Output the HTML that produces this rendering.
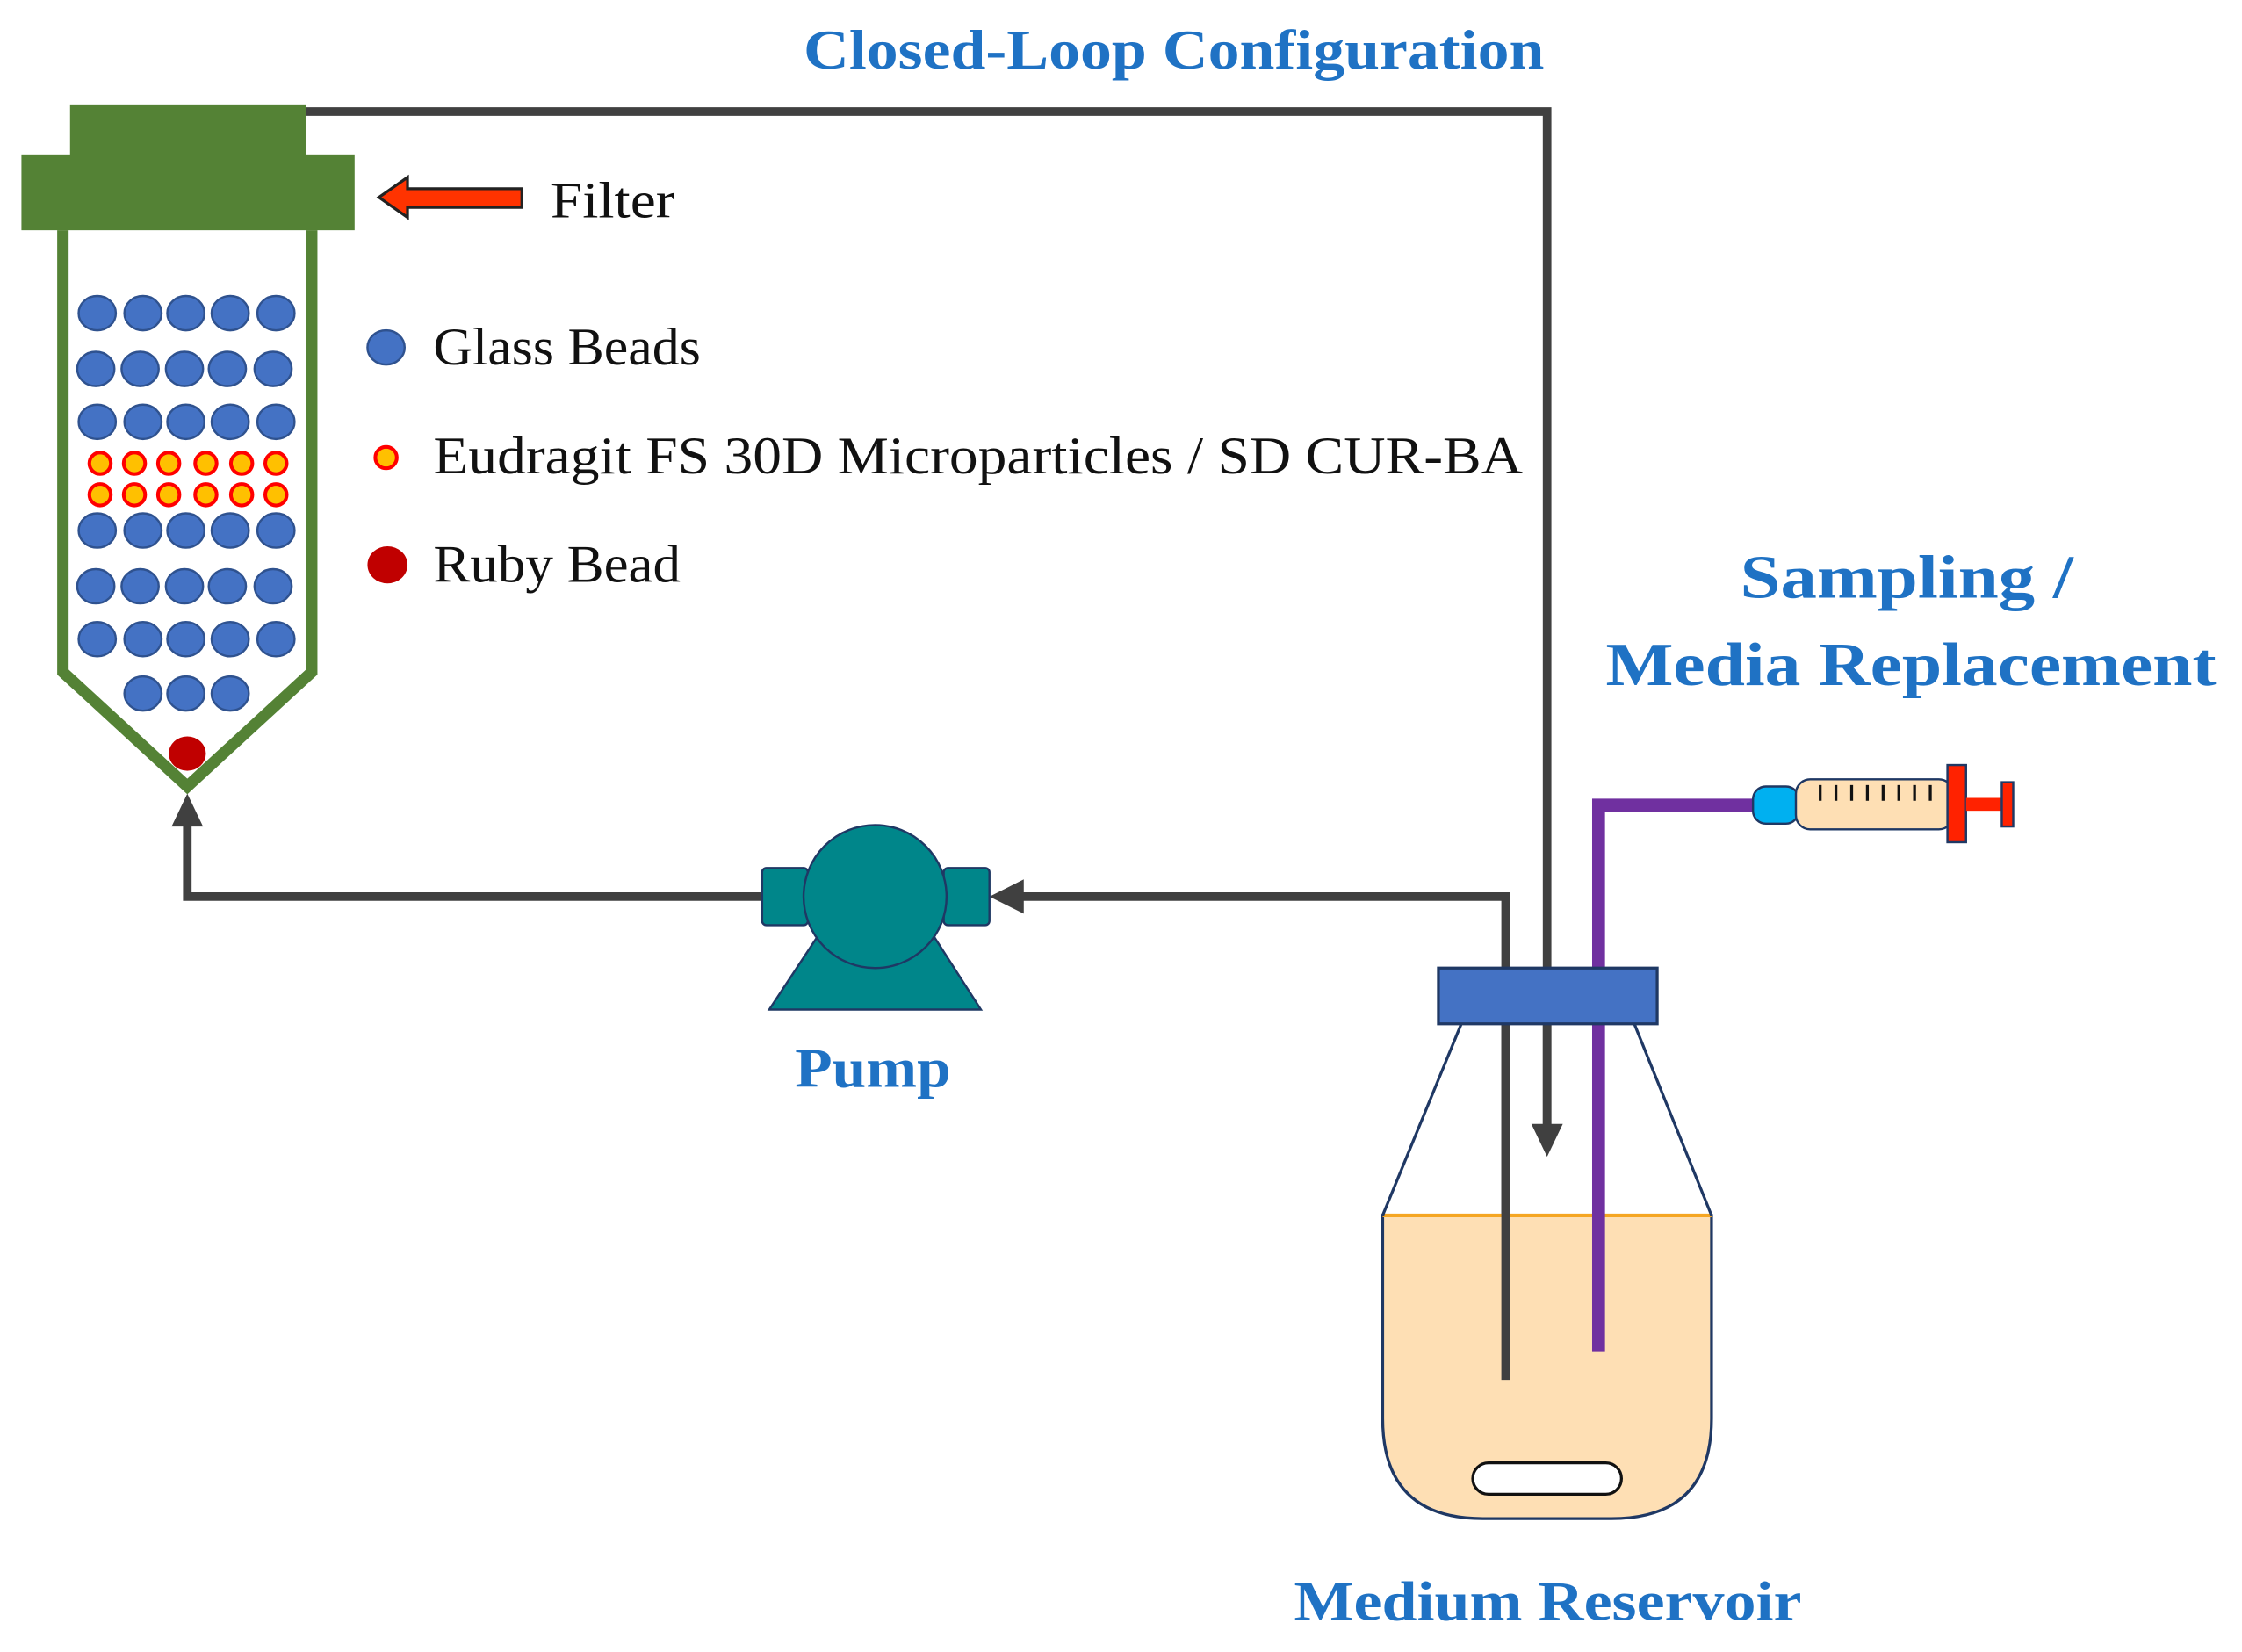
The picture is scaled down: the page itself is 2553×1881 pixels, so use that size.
<!DOCTYPE html>
<html><head><meta charset="utf-8"><style>
html,body{margin:0;padding:0;background:#fff;width:2553px;height:1881px;overflow:hidden}
svg{display:block}
.t{font-family:"Liberation Serif",serif;font-weight:bold;fill:#1f72c4}
.l{font-family:"Liberation Serif",serif;fill:#111}
</style></head><body>
<svg width="2553" height="1881" viewBox="0 0 1568 1155.3" preserveAspectRatio="none">
<text class="t" x="562" y="48" font-size="39" textLength="518" lengthAdjust="spacingAndGlyphs">Closed-Loop Configuration</text>
<!-- top pipe -->
<polyline points="214,78 1082,78 1082,790" fill="none" stroke="#404040" stroke-width="6"/>
<polygon points="1071,786 1093,786 1082,809" fill="#404040"/>
<!-- filter -->
<rect x="49" y="73" width="165" height="36" fill="#548235"/>
<rect x="15" y="108" width="233" height="53" fill="#548235"/>
<polyline points="44,161 44,470 131,550 218,470 218,161" fill="none" stroke="#548235" stroke-width="8"/>
<g fill="#4472c4" stroke="#2f528f" stroke-width="1.5">
<ellipse cx="68" cy="219" rx="13" ry="12"/><ellipse cx="100" cy="219" rx="13" ry="12"/><ellipse cx="130" cy="219" rx="13" ry="12"/><ellipse cx="161" cy="219" rx="13" ry="12"/><ellipse cx="193" cy="219" rx="13" ry="12"/>
<ellipse cx="67" cy="258" rx="13" ry="12"/><ellipse cx="98" cy="258" rx="13" ry="12"/><ellipse cx="129" cy="258" rx="13" ry="12"/><ellipse cx="159" cy="258" rx="13" ry="12"/><ellipse cx="191" cy="258" rx="13" ry="12"/>
<ellipse cx="68" cy="295" rx="13" ry="12"/><ellipse cx="100" cy="295" rx="13" ry="12"/><ellipse cx="130" cy="295" rx="13" ry="12"/><ellipse cx="161" cy="295" rx="13" ry="12"/><ellipse cx="193" cy="295" rx="13" ry="12"/>
<ellipse cx="68" cy="371" rx="13" ry="12"/><ellipse cx="100" cy="371" rx="13" ry="12"/><ellipse cx="130" cy="371" rx="13" ry="12"/><ellipse cx="161" cy="371" rx="13" ry="12"/><ellipse cx="193" cy="371" rx="13" ry="12"/>
<ellipse cx="67" cy="410" rx="13" ry="12"/><ellipse cx="98" cy="410" rx="13" ry="12"/><ellipse cx="129" cy="410" rx="13" ry="12"/><ellipse cx="159" cy="410" rx="13" ry="12"/><ellipse cx="191" cy="410" rx="13" ry="12"/>
<ellipse cx="68" cy="447" rx="13" ry="12"/><ellipse cx="100" cy="447" rx="13" ry="12"/><ellipse cx="130" cy="447" rx="13" ry="12"/><ellipse cx="161" cy="447" rx="13" ry="12"/><ellipse cx="193" cy="447" rx="13" ry="12"/>
<ellipse cx="100" cy="485" rx="13" ry="12"/><ellipse cx="130" cy="485" rx="13" ry="12"/><ellipse cx="161" cy="485" rx="13" ry="12"/>
<ellipse cx="270" cy="243" rx="13" ry="12"/>
</g>
<g fill="#ffc000" stroke="#ff0000" stroke-width="2.5">
<circle cx="70" cy="324" r="7.5"/><circle cx="94" cy="324" r="7.5"/><circle cx="118" cy="324" r="7.5"/><circle cx="144" cy="324" r="7.5"/><circle cx="169" cy="324" r="7.5"/><circle cx="193" cy="324" r="7.5"/>
<circle cx="70" cy="346" r="7.5"/><circle cx="94" cy="346" r="7.5"/><circle cx="118" cy="346" r="7.5"/><circle cx="144" cy="346" r="7.5"/><circle cx="169" cy="346" r="7.5"/><circle cx="193" cy="346" r="7.5"/>
<circle cx="270" cy="320" r="7.5"/>
</g>
<ellipse cx="131" cy="527" rx="13" ry="12" fill="#c00000"/>
<ellipse cx="271" cy="395" rx="14" ry="13" fill="#c00000"/>
<!-- filter arrow -->
<polygon points="265,138 285,124 285,132 365,132 365,145 285,145 285,152" fill="#ff3300" stroke="#222" stroke-width="2"/>
<text class="l" x="385" y="152" font-size="36" textLength="87" lengthAdjust="spacingAndGlyphs">Filter</text>
<text class="l" x="303" y="255" font-size="37" textLength="187" lengthAdjust="spacingAndGlyphs">Glass Beads</text>
<text class="l" x="303" y="331" font-size="37" textLength="762" lengthAdjust="spacingAndGlyphs">Eudragit FS 30D Microparticles / SD CUR-BA</text>
<text class="l" x="303" y="407" font-size="37" textLength="173" lengthAdjust="spacingAndGlyphs">Ruby Bead</text>
<!-- return pipe -->
<polyline points="131,568 131,627 540,627" fill="none" stroke="#404040" stroke-width="6"/>
<polygon points="120,578 142,578 131,555" fill="#404040"/>
<polyline points="712,627 1053,627 1053,965" fill="none" stroke="#404040" stroke-width="6"/>
<polygon points="692,627 716,615 716,639" fill="#404040"/>
<!-- pump -->
<g fill="#00868a" stroke="#1f3864" stroke-width="1.5">
<polygon points="575,650 650,650 686,706 538,706"/>
<rect x="533" y="607" width="32" height="40" rx="3"/>
<rect x="660" y="607" width="32" height="40" rx="3"/>
<circle cx="612" cy="627" r="50"/>
</g>
<text class="t" x="556" y="760" font-size="39" textLength="109" lengthAdjust="spacingAndGlyphs">Pump</text>
<!-- bottle -->
<path d="M967,850 L1197,850 L1197,992 Q1197,1062 1127,1062 L1037,1062 Q967,1062 967,992 Z" fill="#fedfb4" stroke="#1f3864" stroke-width="2"/>
<line x1="967" y1="850" x2="1197" y2="850" stroke="#f5a623" stroke-width="2.5"/>
<line x1="1022" y1="716" x2="967" y2="850" stroke="#1f3864" stroke-width="2"/>
<line x1="1143" y1="716" x2="1197" y2="850" stroke="#1f3864" stroke-width="2"/>
<rect x="1030" y="1023" width="104" height="22" rx="11" fill="#fff" stroke="#111" stroke-width="2"/>
<line x1="1053" y1="700" x2="1053" y2="965" stroke="#404040" stroke-width="6"/>
<line x1="1082" y1="700" x2="1082" y2="790" stroke="#404040" stroke-width="6"/>
<polyline points="1118,945 1118,563 1230,563" fill="none" stroke="#7030a0" stroke-width="9"/>
<rect x="1006" y="677" width="153" height="39" fill="#4472c4" stroke="#1f3864" stroke-width="2"/>
<!-- syringe -->
<rect x="1226" y="550" width="32" height="26" rx="9" fill="#00b0f0" stroke="#1f3864" stroke-width="1.5"/>
<rect x="1256" y="545" width="110" height="35" rx="10" fill="#fedfb4" stroke="#1f3864" stroke-width="1.5"/>
<g stroke="#111" stroke-width="2">
<line x1="1273" y1="549" x2="1273" y2="560"/><line x1="1284" y1="549" x2="1284" y2="560"/><line x1="1295" y1="549" x2="1295" y2="560"/><line x1="1306" y1="549" x2="1306" y2="560"/><line x1="1317" y1="549" x2="1317" y2="560"/><line x1="1328" y1="549" x2="1328" y2="560"/><line x1="1339" y1="549" x2="1339" y2="560"/><line x1="1350" y1="549" x2="1350" y2="560"/>
</g>
<rect x="1362" y="535" width="13" height="54" fill="#ff2200" stroke="#1f3864" stroke-width="1.5"/>
<rect x="1375" y="558" width="26" height="9" fill="#ff2200"/>
<rect x="1400" y="547" width="8" height="31" fill="#ff2200" stroke="#1f3864" stroke-width="1.5"/>
<text class="t" x="1217" y="418" font-size="43" textLength="233" lengthAdjust="spacingAndGlyphs">Sampling /</text>
<text class="t" x="1123" y="479" font-size="43" textLength="427" lengthAdjust="spacingAndGlyphs">Media Replacement</text>
<text class="t" x="905" y="1133" font-size="39" textLength="355" lengthAdjust="spacingAndGlyphs">Medium Reservoir</text>
</svg>
</body></html>
